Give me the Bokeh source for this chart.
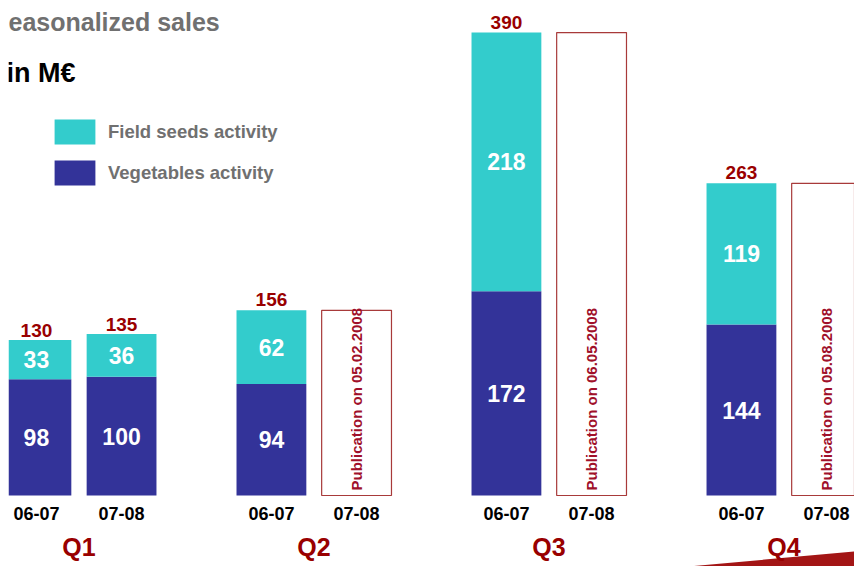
import math
from bokeh.plotting import figure
from bokeh.models import (ColumnDataSource, FactorRange, Range1d, Legend, LegendItem, Label,
                          PolyAnnotation)
from bokeh.core.properties import value
from bokeh.embed import file_html
from bokeh.resources import INLINE

# ---------------- data ----------------
quarters = ["Q1", "Q2", "Q3", "Q4"]
years = ["06-07", "07-08"]
vegetables_0607 = [98, 94, 172, 144]
field_seeds_0607 = [33, 62, 218, 119]
totals_0607 = [130, 156, 390, 263]
vegetables_0708 = [100]          # only Q1 published
field_seeds_0708 = [36]
totals_0708 = [135]
publication_dates = ["05.02.2008", "06.05.2008", "05.08.2008"]  # pending Q2..Q4 07-08

# ---------------- styles ----------------
FONT = "Liberation Sans"
CYAN = "#33CCCC"
NAVY = "#333399"
DARKRED = "#990000"
PUBRED = "#A0102A"
GRAY = "#707070"
W, H = 854, 566
LEFT = 8  # frame offset from the canvas' left edge

factors = [(q, y) for q in quarters for y in years]

# published bars
bx, veg, seeds, tot = [], [], [], []
for i, q in enumerate(quarters):
    bx.append((q, "06-07")); veg.append(vegetables_0607[i]); seeds.append(field_seeds_0607[i]); tot.append(totals_0607[i])
    if i < len(vegetables_0708):
        bx.append((q, "07-08")); veg.append(vegetables_0708[i]); seeds.append(field_seeds_0708[i]); tot.append(totals_0708[i])

src = ColumnDataSource(dict(
    x=bx, veg=veg, seeds=seeds, total=tot,
    veg_mid=[v / 2 for v in veg],
    seeds_mid=[v + s / 2 for v, s in zip(veg, seeds)],
    veg_txt=[str(v) for v in veg],
    seeds_txt=[str(s) for s in seeds],
    total_txt=[str(t) for t in tot],
))

# pending (not yet published) bars
pend_q = quarters[len(vegetables_0708):]
pend_src = ColumnDataSource(dict(
    x=[(q, "07-08") for q in pend_q],
    top=[totals_0607[quarters.index(q)] for q in pend_q],
    zero=[0] * len(pend_q),
    txt=["Publication on " + d for d in publication_dates],
))

year_src = ColumnDataSource(dict(x=factors, y=[0] * len(factors), txt=[f[1] for f in factors]))
q_src = ColumnDataSource(dict(x=quarters, y=[0] * len(quarters), txt=quarters))

p = figure(width=W, height=H,
           x_range=FactorRange(*factors, range_padding=-0.0335, group_padding=0.76),
           y_range=Range1d(-59.8, 417.0),
           output_backend="svg", toolbar_location=None, min_border=0)
p.min_border_left = LEFT
p.xaxis.visible = False
p.yaxis.visible = False
p.grid.visible = False
p.outline_line_color = None

# decorative slide swoosh at bottom right (drawn beneath everything)
p.add_layout(PolyAnnotation(xs=[688 - LEFT, W - LEFT, W - LEFT], ys=[0, 15, 0],
                            xs_units="screen", ys_units="screen", level="underlay",
                            fill_color="#A31515", fill_alpha=1.0, line_color=None))

rs = p.vbar_stack(["veg", "seeds"], x="x", width=0.82, color=[NAVY, CYAN], line_color=None, source=src)

p.vbar(x="x", top="top", bottom="zero", width=0.82, fill_color="white",
       line_color="#A83A3A", line_width=1.2, source=pend_src)

common = dict(text_font=value(FONT), text_font_style="bold", text_align="center", text_baseline="middle")
p.text(x="x", y="veg_mid", text="veg_txt", source=src, text_color="white", text_font_size="23px", **common)
p.text(x="x", y="seeds_mid", text="seeds_txt", source=src, text_color="white", text_font_size="23px", **common)
p.text(x="x", y="total", text="total_txt", source=src, text_color=DARKRED, text_font_size="19px",
       y_offset=-4, text_font=value(FONT), text_font_style="bold", text_align="center", text_baseline="bottom")
p.text(x="x", y="zero", text="txt", source=pend_src, angle=math.pi / 2, y_offset=-5,
       text_color=PUBRED, text_font_size="15px", text_font=value(FONT), text_font_style="bold",
       text_align="left", text_baseline="middle")
p.text(x="x", y="y", text="txt", source=year_src, y_offset=18, text_color="black", text_font_size="18px", **common)
p.text(x="x", y="y", text="txt", source=q_src, y_offset=51, text_color=DARKRED, text_font_size="25px", **common)

p.add_layout(Label(x=0, y=H - 21, x_units="screen", y_units="screen", text="easonalized sales",
                   text_font=FONT, text_font_style="bold", text_font_size="25px", text_color=GRAY,
                   text_baseline="alphabetic"))
p.add_layout(Label(x=6 - LEFT, y=H - 72, x_units="screen", y_units="screen", text="in M€",
                   text_font=FONT, text_font_style="bold", text_font_size="27px", text_color="black",
                   text_baseline="alphabetic"))

legend = Legend(items=[LegendItem(label="Field seeds activity", renderers=[rs[1]]),
                       LegendItem(label="Vegetables activity", renderers=[rs[0]])],
                location=(49 - LEFT, H - 188), glyph_width=51, glyph_height=31, spacing=10, label_standoff=8,
                label_text_font=FONT, label_text_font_style="bold", label_text_font_size="18.5px",
                label_text_color=GRAY, border_line_color=None, background_fill_alpha=0,
                padding=0, margin=0)
p.add_layout(legend)

open("out.html", "w").write(file_html(p, INLINE))
